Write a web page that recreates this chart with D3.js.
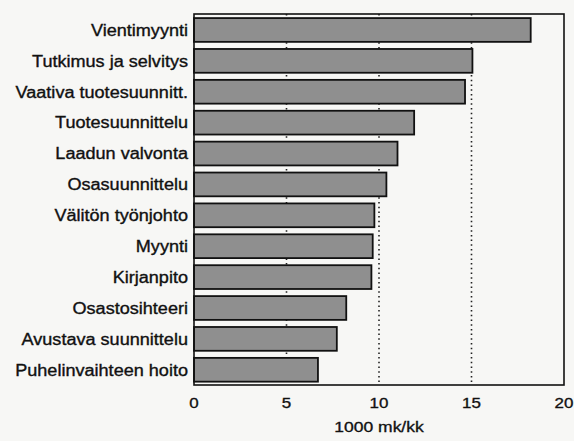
<!DOCTYPE html>
<html>
<head>
<meta charset="utf-8">
<script src="https://cdn.jsdelivr.net/npm/d3@7"></script>
<style>
  body { margin: 0; background: #f7f7f5; }
  text { font-family: "Liberation Sans", Arial, sans-serif; fill: #111; stroke: #111; stroke-width: 0.35px; }
</style>
</head>
<body>
<div id="chart-area"></div>
<script>
var width = 574,
    height = 441;

// data
var categories = ["Vientimyynti", "Tutkimus ja selvitys", "Vaativa tuotesuunnitt.",
  "Tuotesuunnittelu", "Laadun valvonta", "Osasuunnittelu", "Välitön työnjohto",
  "Myynti", "Kirjanpito", "Osastosihteeri", "Avustava suunnittelu", "Puhelinvaihteen hoito"];
var values = [18.2, 15.05, 14.65, 11.9, 11.0, 10.4, 9.75, 9.66, 9.59, 8.23, 7.72, 6.7];
var xTicks = [0, 5, 10, 15, 20];
var gridTicks = [5, 10, 15];
var xTitle = "1000 mk/kk";

var data = categories.map(function(c, i) { return {name: c, value: values[i]}; });

// plot box (note: "top" clashes with window.top)
var pLeft = 194, pRight = 564, pTop = 14, pBottom = 385;
var stretch = 1.13; // scan is a bit wider than the type

var svg = d3.select("#chart-area").append("svg")
    .attr("width", width)
    .attr("height", height);

svg.append("rect")
    .attr("width", width).attr("height", height)
    .attr("fill", "#f7f7f5");

var x = d3.scaleLinear().domain([0, 20]).range([pLeft, pRight]);
var y = d3.scaleBand().domain(categories).range([pTop, pBottom])
    .paddingInner(0.23).paddingOuter(0.12).align(0.55);

// dotted grid lines
svg.selectAll(".grid")
    .data(gridTicks)
    .enter()
    .append("line")
    .attr("class", "grid")
    .attr("x1", d => x(d)).attr("x2", d => x(d))
    .attr("y1", pTop).attr("y2", pBottom)
    .style("stroke", "#222")
    .style("stroke-width", 1.6)
    .style("stroke-dasharray", "1.5,3.2");

// bars
svg.selectAll(".bar")
    .data(data)
    .enter()
    .append("rect")
    .attr("class", "bar")
    .attr("x", x(0))
    .attr("y", d => y(d.name))
    .attr("width", d => x(d.value) - x(0))
    .attr("height", y.bandwidth())
    .attr("fill", "#8f8f8f")
    .attr("stroke", "#111")
    .attr("stroke-width", 1.8);

// frame
svg.append("rect")
    .attr("x", pLeft).attr("y", pTop)
    .attr("width", pRight - pLeft).attr("height", pBottom - pTop)
    .attr("fill", "none")
    .attr("stroke", "#111")
    .attr("stroke-width", 1.6);

// category labels
svg.selectAll(".cat")
    .data(data)
    .enter()
    .append("text")
    .attr("class", "cat")
    .attr("transform", d => "translate(188," + (y(d.name) + y.bandwidth() / 2) + ") scale(" + stretch + ",1)")
    .attr("dy", "0.36em")
    .attr("text-anchor", "end")
    .style("font-size", "16px")
    .text(d => d.name);

// x tick labels
svg.selectAll(".tick-label")
    .data(xTicks)
    .enter()
    .append("text")
    .attr("class", "tick-label")
    .attr("transform", d => "translate(" + x(d) + ",408) scale(" + stretch + ",1)")
    .attr("text-anchor", "middle")
    .style("font-size", "15px")
    .text(d => d);

svg.append("text")
    .attr("transform", "translate(" + ((pLeft + pRight) / 2) + ",432) scale(" + stretch + ",1)")
    .attr("text-anchor", "middle")
    .style("font-size", "15.5px")
    .text(xTitle);
</script>
</body>
</html>
